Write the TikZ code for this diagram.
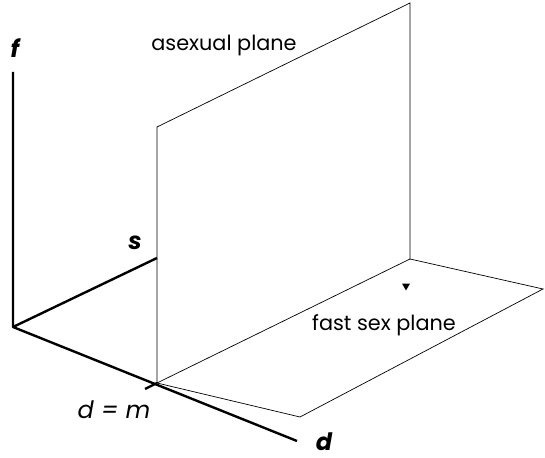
\documentclass[tikz,border=0pt]{standalone}
\usepackage{fontspec}
\setmainfont{Poppins}
\usetikzlibrary{shapes.geometric}

\begin{document}
\begin{tikzpicture}[x=0.5pt,y=-0.5pt,
    axis/.style={line width=1.2pt, line join=round},
    plane/.style={line width=0.35pt},
    planelbl/.style={font=\fontsize{10.4}{12}\selectfont, inner sep=0pt},
    axlbl/.style={font=\fontsize{12}{14}\selectfont\bfseries\itshape, inner sep=0pt}]
  \useasboundingbox (0,0) rectangle (545,458);

  % Corners of axes and planes
  \coordinate (O) at (13,327);
  \coordinate (ftop) at (13,72);
  \coordinate (send) at (157,258);
  \coordinate (dend) at (297,441);
  \coordinate (dm) at (157,383);
  \coordinate (tick) at (145,389);
  \coordinate (afront) at (157,127);
  \coordinate (aback) at (410,3);
  \coordinate (abase) at (410,259);
  \coordinate (sfront) at (300,417);
  \coordinate (sright) at (543,289);

  % Fast sex plane
  \draw[plane] (dm) -- (sfront) -- (sright) -- (abase);
  % Asexual plane
  \draw[plane] (dm) -- (afront) -- (aback) -- (abase) -- cycle;

  % Axes
  \draw[axis] (ftop) -- (O) -- (dend);
  \draw[axis] (O) -- (send);
  \draw[axis] (tick) -- (dm);

  % Marker on the fast sex plane
  \node[regular polygon, regular polygon sides=3, shape border rotate=180,
        fill, inner sep=0pt, minimum size=4.5pt] (mark) at (406,286) {};

  % Labels
  \node[planelbl] (asexlbl) at (224,46) {asexual plane};
  \node[planelbl] (fastlbl) at (384,325) {fast sex plane};
  \node[axlbl] (flbl) at (15,48) {f};
  \node[axlbl] (slbl) at (135,243) {s};
  \node[axlbl] (dlbl) at (324,442) {d};
  \node[planelbl, font=\fontsize{12}{14}\selectfont\itshape] (dmlbl) at (114,410) {d = m};
\end{tikzpicture}
\end{document}
